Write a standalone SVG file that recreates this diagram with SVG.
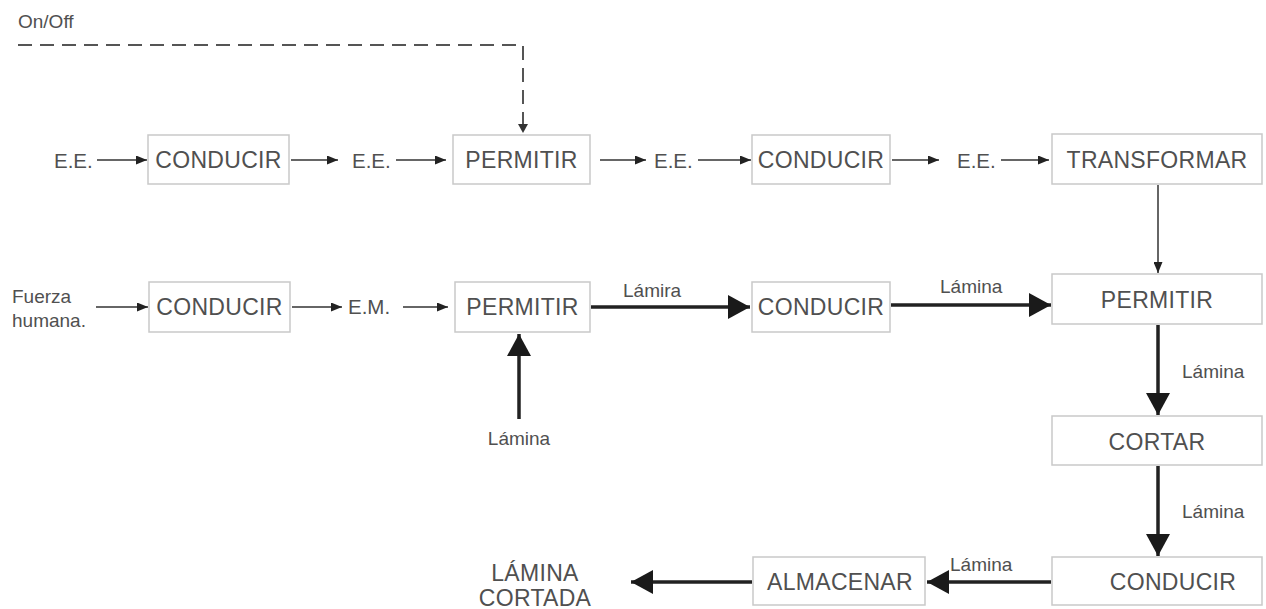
<svg xmlns="http://www.w3.org/2000/svg" width="1266" height="609" viewBox="0 0 1266 609">
  <style>
    .box { fill: #ffffff; stroke: #c9c9c9; stroke-width: 1.5; }
    .lbl { font-family: "Liberation Sans", Arial, sans-serif; font-size: 23px; fill: #505050; text-anchor: middle; dominant-baseline: central; letter-spacing: 0.3px; }
    .txt { font-family: "Liberation Sans", Arial, sans-serif; font-size: 19px; fill: #505050; }
    .ee { font-size: 20.5px; }
    .thin { stroke: #333333; stroke-width: 1.5; fill: none; }
    .thick { stroke: #222222; stroke-width: 3.5; fill: none; }
    .dash { stroke: #555555; stroke-width: 2; fill: none; stroke-dasharray: 14 8; }
  </style>
  <defs>
    <marker id="headThin" markerUnits="userSpaceOnUse" markerWidth="11" markerHeight="9" refX="11" refY="4.5" orient="auto">
      <path d="M0,0 L11,4.5 L0,9 Z" fill="#222222"/>
    </marker>
    <marker id="headThick" markerUnits="userSpaceOnUse" markerWidth="22" markerHeight="24" refX="22" refY="12" orient="auto">
      <path d="M0,0 L22,12 L0,24 Z" fill="#1a1a1a"/>
    </marker>
  </defs>

  <rect width="1266" height="609" fill="#ffffff"/>

  <!-- free-standing labels -->
  <g id="labels">
    <text class="txt" x="18" y="28" font-size="18">On/Off</text>
    <text class="txt ee" x="54" y="168">E.E.</text>
    <text class="txt ee" x="352" y="168">E.E.</text>
    <text class="txt ee" x="654" y="168">E.E.</text>
    <text class="txt ee" x="957" y="168">E.E.</text>
    <text class="txt" x="12" y="303">Fuerza</text>
    <text class="txt" x="12" y="327">humana.</text>
    <text class="txt ee" x="348" y="314">E.M.</text>
    <text class="txt" x="623" y="297">Lámira</text>
    <text class="txt" x="940" y="293">Lámina</text>
    <text class="txt" x="519" y="445" text-anchor="middle">Lámina</text>
    <text class="txt" x="1182" y="378">Lámina</text>
    <text class="txt" x="1182" y="518">Lámina</text>
    <text class="txt" x="950" y="571">Lámina</text>
    <text class="lbl" x="535" y="573">LÁMINA</text>
    <text class="lbl" x="535" y="598">CORTADA</text>
  </g>

  <!-- process boxes -->
  <g id="n-conducir1"><rect class="box" x="148" y="135" width="141" height="49"/><text class="lbl" x="218.5" y="160">CONDUCIR</text></g>
  <g id="n-permitir1"><rect class="box" x="453" y="135" width="137" height="49"/><text class="lbl" x="521.5" y="160">PERMITIR</text></g>
  <g id="n-conducir2"><rect class="box" x="752" y="135" width="138" height="49"/><text class="lbl" x="821" y="160">CONDUCIR</text></g>
  <g id="n-transformar"><rect class="box" x="1052" y="134" width="210" height="50"/><text class="lbl" x="1157" y="160">TRANSFORMAR</text></g>

  <g id="n-conducir3"><rect class="box" x="149" y="282" width="141" height="50"/><text class="lbl" x="219.5" y="307">CONDUCIR</text></g>
  <g id="n-permitir2"><rect class="box" x="455" y="282" width="135" height="50"/><text class="lbl" x="522.5" y="307">PERMITIR</text></g>
  <g id="n-conducir4"><rect class="box" x="752" y="282" width="138" height="50"/><text class="lbl" x="821" y="307">CONDUCIR</text></g>
  <g id="n-permitir3"><rect class="box" x="1052" y="274" width="210" height="50"/><text class="lbl" x="1157" y="300">PERMITIR</text></g>

  <g id="n-cortar"><rect class="box" x="1052" y="416" width="210" height="49"/><text class="lbl" x="1157" y="442">CORTAR</text></g>
  <g id="n-conducir5"><rect class="box" x="1052" y="557" width="210" height="48"/><text class="lbl" x="1173" y="582">CONDUCIR</text></g>
  <g id="n-almacenar"><rect class="box" x="753" y="557" width="172" height="48"/><text class="lbl" x="840" y="582">ALMACENAR</text></g>

  <!-- connectors -->
  <g id="connectors">
    <polyline class="dash" points="18,45 523,45 523,125" />
    <path d="M518,124 L523,133 L528,124 Z" fill="#333333"/>

    <line class="thin" x1="97" y1="160" x2="147" y2="160" marker-end="url(#headThin)"/>
    <line class="thin" x1="291" y1="160" x2="338" y2="160" marker-end="url(#headThin)"/>
    <line class="thin" x1="396" y1="160" x2="446" y2="160" marker-end="url(#headThin)"/>
    <line class="thin" x1="600" y1="160" x2="646" y2="160" marker-end="url(#headThin)"/>
    <line class="thin" x1="698" y1="160" x2="751" y2="160" marker-end="url(#headThin)"/>
    <line class="thin" x1="892" y1="160" x2="939" y2="160" marker-end="url(#headThin)"/>
    <line class="thin" x1="1001" y1="160" x2="1049" y2="160" marker-end="url(#headThin)"/>
    <line class="thin" x1="1158" y1="185" x2="1158" y2="273" marker-end="url(#headThin)"/>

    <line class="thin" x1="96" y1="307" x2="148" y2="307" marker-end="url(#headThin)"/>
    <line class="thin" x1="292" y1="307" x2="342" y2="307" marker-end="url(#headThin)"/>
    <line class="thin" x1="403" y1="307" x2="448" y2="307" marker-end="url(#headThin)"/>

    <line class="thick" x1="591" y1="307" x2="750" y2="307" marker-end="url(#headThick)"/>
    <line class="thick" x1="891" y1="305" x2="1051" y2="305" marker-end="url(#headThick)"/>
    <line class="thick" x1="519" y1="419" x2="519" y2="334" marker-end="url(#headThick)"/>

    <line class="thick" x1="1158" y1="325" x2="1158" y2="415" marker-end="url(#headThick)"/>
    <line class="thick" x1="1158" y1="466" x2="1158" y2="556" marker-end="url(#headThick)"/>
    <line class="thick" x1="1051" y1="582" x2="927" y2="582" marker-end="url(#headThick)"/>
    <line class="thick" x1="752" y1="582" x2="631" y2="582" marker-end="url(#headThick)"/>
  </g>
</svg>
